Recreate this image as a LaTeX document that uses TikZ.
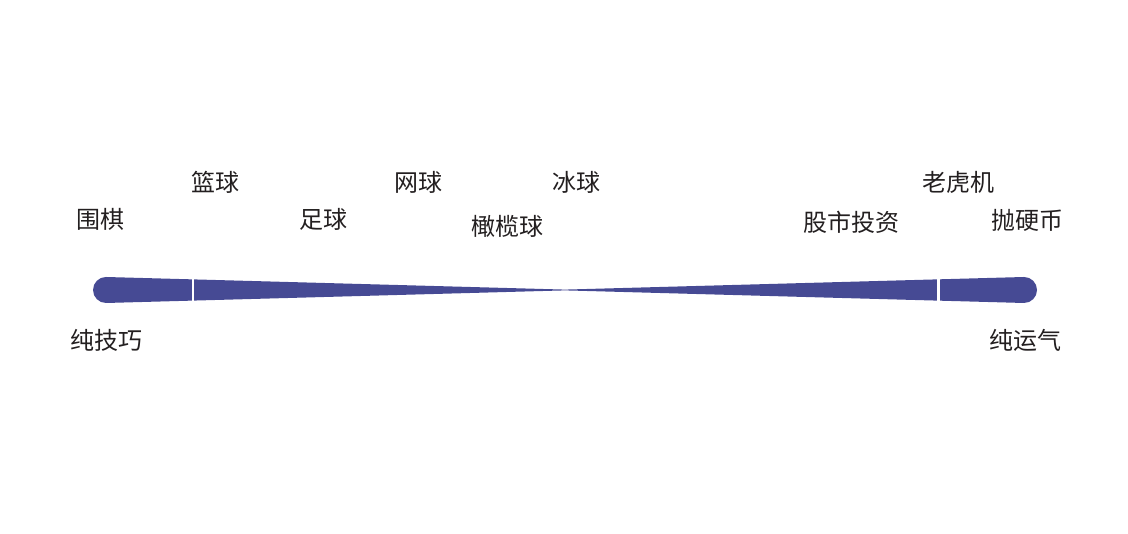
\documentclass[tikz,border=0pt]{standalone}
\usepackage{fontspec}
\newfontfamily\cjk{Noto Sans CJK SC}
\definecolor{barblue}{RGB}{70,74,148}
\definecolor{labelink}{RGB}{35,31,32}

\begin{document}
\begin{tikzpicture}[
    x=1pt, y=1pt,
    label/.style={inner sep=0pt, text=labelink, font=\cjk\fontsize{24}{28}\selectfont},
    gap/.style={white, line width=2.5pt}
]
\useasboundingbox (0,0) rectangle (1128,534);

% tapered scale bar
\fill[barblue] (106,257) -- (565,244.4) -- (1024,257) arc (90:-90:13)
    -- (565,243.6) -- (106,231) arc (270:90:13) -- cycle;
\draw[gap] (193,225) -- (193,263);
\draw[gap] (938.7,225) -- (938.7,263);

% labels above the bar
\node[label] (weiqi) at (100,315) {围棋};
\node[label] (lanqiu) at (215,352) {篮球};
\node[label] (zuqiu) at (323,315) {足球};
\node[label] (wangqiu) at (418,352) {网球};
\node[label] (ganlanqiu) at (507,308) {橄榄球};
\node[label] (bingqiu) at (576,352) {冰球};
\node[label] (gushi) at (851,312) {股市投资};
\node[label] (laohuji) at (958,352) {老虎机};
\node[label] (yingbi) at (1027,314) {抛硬币};

% ends of the scale
\node[label] (jiqiao) at (106,194) {纯技巧};
\node[label] (yunqi) at (1025,194) {纯运气};
\end{tikzpicture}
\end{document}
